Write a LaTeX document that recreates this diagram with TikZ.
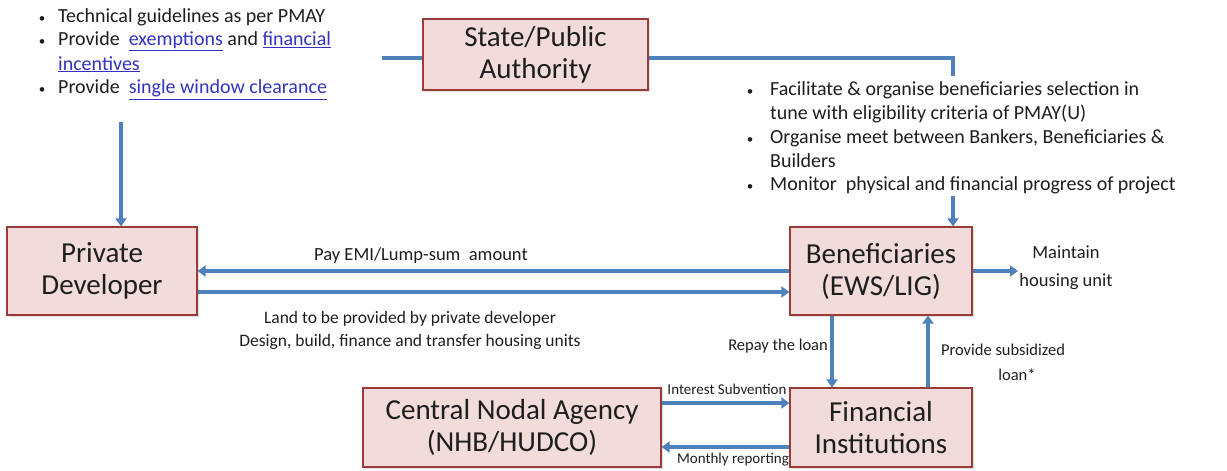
\documentclass[tikz,border=0pt]{standalone}
\usepackage{fontspec}
\setmainfont{Carlito}
\usetikzlibrary{arrows.meta,shadows}
\definecolor{boxfill}{HTML}{F2DCDB}
\definecolor{boxline}{HTML}{9B3B38}
\definecolor{arrowblue}{HTML}{4F81BD}
\definecolor{linkblue}{HTML}{3333C0}
\definecolor{txt}{HTML}{1E1E1E}
\newcommand{\bul}{\makebox[8pt][c]{\fontsize{13}{13}\selectfont\textbullet}}
\newcommand{\lnk}[1]{\textcolor{linkblue}{\underline{#1}}}
\begin{document}
\begin{tikzpicture}[x=1pt,y=-1pt,
  entity/.style={draw=boxline, line width=1.2pt, fill=boxfill, align=center,
    inner sep=0pt, font=\fontsize{29}{32}\selectfont, text=txt,
    drop shadow={shadow xshift=1.5pt,shadow yshift=-1.5pt,opacity=0.25}},
  conn/.style={draw=arrowblue, line width=3.5pt},
  arr/.style={conn, -{Triangle[length=8pt,width=11pt]}},
  lbl/.style={text=txt, inner sep=0pt, align=center},
  bigl/.style={lbl, font=\fontsize{17.5}{23}\selectfont},
  midl/.style={lbl, font=\fontsize{16.5}{25}\selectfont},
  mntl/.style={lbl, font=\fontsize{18.5}{28}\selectfont},
  smal/.style={lbl, font=\fontsize{15}{18}\selectfont},
  bullets/.style={text=txt, inner sep=0pt, font=\fontsize{20}{24}\selectfont}]
\useasboundingbox (0,0) rectangle (1227,471);

% boxes
\node[entity, minimum width=225pt, minimum height=71pt] (state) at (535.5,54.5) {State/Public\\Authority};
\node[entity, minimum width=190pt, minimum height=88pt] (pd) at (102,271) {Private\\Developer};
\node[entity, minimum width=182pt, minimum height=88pt] (ben) at (881,271) {Beneficiaries\\(EWS/LIG)};
\node[entity, minimum width=182pt, minimum height=79pt] (fi) at (881,427.5) {Financial\\Institutions};
\node[entity, minimum width=298pt, minimum height=79pt] (cna) at (512,427.5) {Central Nodal Agency\\(NHB/HUDCO)};

% connectors
\draw[arr] ([yshift=-3.5pt]state.west) -| ([xshift=19pt]pd.north);
\draw[arr] ([yshift=-3.5pt]state.east) -| ([xshift=72pt]ben.north);
\draw[arr] (ben.west) -- (pd.east);
\draw[arr] ([yshift=-21pt]pd.east) -- ([yshift=-21pt]ben.west);
\coordinate (mt) at (1018,271);
\draw[arr] (ben.east) -- (mt);
\draw[arr] ([xshift=-49pt]ben.south) -- ([xshift=-49pt]fi.north);
\draw[arr] ([xshift=47pt]fi.north) -- ([xshift=47pt]ben.south);
\draw[arr] ([yshift=24.5pt]cna.east) -- ([yshift=24.5pt]fi.west);
\draw[arr] ([yshift=-19.5pt]fi.west) -- ([yshift=-19.5pt]cna.east);

% text blocks with white backgrounds
\fill[white] (26,0) rectangle (382,122);
\node[bullets, anchor=base west] (ltxt) at (38,22) {\begin{tabular}[t]{@{}l@{\hspace{12pt}}l@{}}
\bul & Technical guidelines as per PMAY\\
\bul & Provide\ \ \lnk{exemptions} and \lnk{financial}\\
 & \lnk{incentives}\\
\bul & Provide\ \ \lnk{single window clearance}
\end{tabular}};
\fill[white] (742,76) rectangle (1200,196);
\node[bullets, anchor=base west] (rtxt) at (746,95) {\begin{tabular}[t]{@{}l@{\hspace{16pt}}l@{}}
\bul & Facilitate \& organise beneficiaries selection in\\
 & tune with eligibility criteria of PMAY(U)\\
\bul & Organise meet between Bankers, Beneficiaries \&\\
 & Builders\\
\bul & Monitor\ \ physical and financial progress of project
\end{tabular}};

% labels
\node[bigl, font=\fontsize{18.5}{23}\selectfont] (lpay) at (421,256) {Pay EMI/Lump-sum\ \ amount};
\node[bigl] (lland) at (410,330) {Land to be provided by private developer\\Design, build, finance and transfer housing units};
\node[midl, anchor=east] (lrepay) at (828,346) {Repay the loan};
\node[midl] (lprov) at (1003,362) {Provide subsidized\\\hspace*{28pt}loan*};
\node[mntl] (lmaint) at (1066,268) {Maintain\\housing unit};
\node[smal] (lint) at (727,389) {Interest Subvention};
\node[smal] (lmon) at (733,460) {Monthly reporting};
\end{tikzpicture}
\end{document}
